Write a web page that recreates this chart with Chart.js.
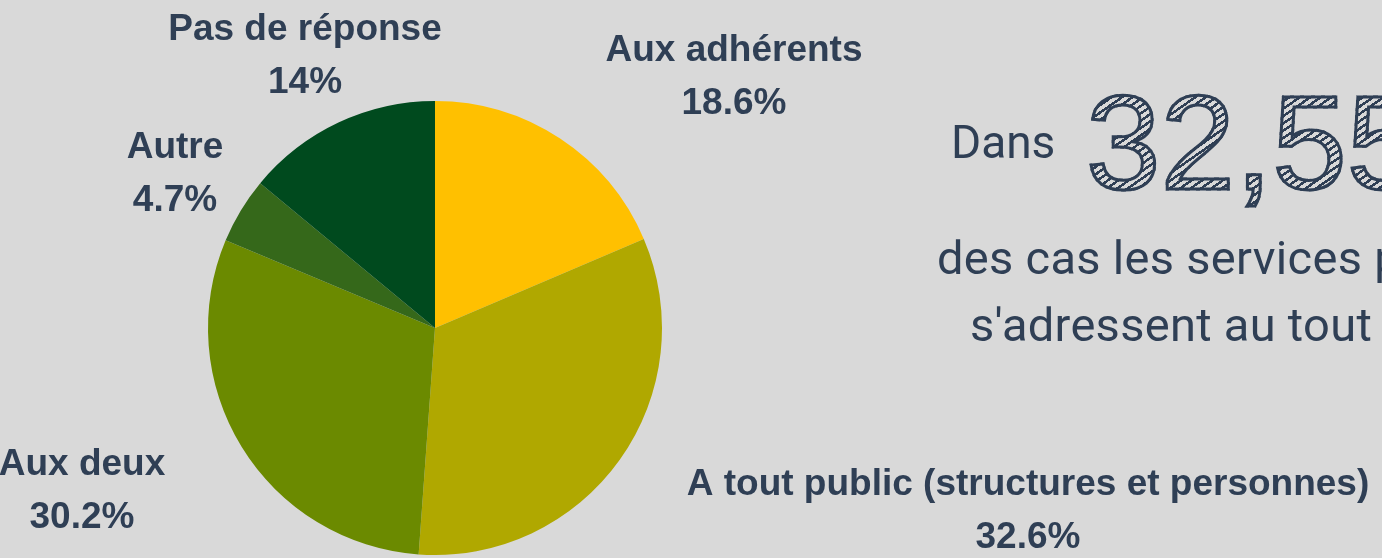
<!DOCTYPE html>
<html>
<head>
<meta charset="utf-8">
<script src="https://cdn.jsdelivr.net/npm/chart.js@4"></script>
<style>
  html, body { margin: 0; padding: 0; background: #d9d9d9; overflow: hidden; }
  #wrap { position: relative; width: 1382px; height: 558px; overflow: hidden; }
  #pie { position: absolute; left: 0; top: 0; }
  .txt { position: absolute; color: #2f3f55; white-space: nowrap; font-family: Roboto, sans-serif; font-weight: 400; }
  #dans { left: 951px; top: 115px; font-size: 46px; }
  #big {
    left: 1086px; top: 66px; font-family: "Liberation Sans", Arial, sans-serif; font-size: 134px;
    color: transparent; -webkit-text-stroke: 3px #2f3f55;
    background: repeating-linear-gradient(-35deg, #2f3f55 0 2.5px, transparent 2.5px 6px);
    -webkit-background-clip: text; background-clip: text;
  }
  #l1 { left: 937px; top: 230px; font-size: 47px; letter-spacing: 0.3px; }
  #l2 { left: 970px; top: 297px; font-size: 47px; letter-spacing: 0.3px; }
</style>
</head>
<body>
<div id="wrap">
  <canvas id="pie" width="1382" height="558"></canvas>
  <div class="txt" id="dans">Dans</div>
  <div class="txt" id="big">32,55</div>
  <div class="txt" id="l1">des cas les services p</div>
  <div class="txt" id="l2">s'adressent au tout</div>
</div>
<script>
const categories = ['Aux adhérents', 'A tout public (structures et personnes)', 'Aux deux', 'Autre', 'Pas de réponse'];
const values = [18.6, 32.6, 30.2, 4.7, 14];
const valueLabels = ['18.6%', '32.6%', '30.2%', '4.7%', '14%'];
const colors = ['#ffc000', '#b0a800', '#6b8a00', '#35681a', '#004a1e'];

document.addEventListener('DOMContentLoaded', function () {
    // label placement, offset from the pie centre (first line centre)
    const labelOffsets = [[299, -277], [593, 157], [-353, 137], [-260, -180], [-130, -298]];

    const outsideLabels = {
        id: 'outsideLabels',
        afterDatasetsDraw(chart) {
            const c = chart.ctx;
            const arcs = chart.getDatasetMeta(0).data;
            c.save();
            c.fillStyle = '#2f3f55';
            c.font = 'bold 37px "Liberation Sans", Arial, sans-serif';
            c.textAlign = 'center';
            c.textBaseline = 'middle';
            arcs.forEach(function (arc, i) {
                const x = arc.x + labelOffsets[i][0];
                const y = arc.y + labelOffsets[i][1];
                c.fillText(categories[i], x, y);
                c.fillText(valueLabels[i], x, y + 53);
            });
            c.restore();
        }
    };

    const ctx = document.getElementById('pie');
    new Chart(ctx.getContext('2d'), {
        type: 'pie',
        data: {
            labels: categories,
            datasets: [{
                data: values,
                backgroundColor: colors,
                borderWidth: 0
            }]
        },
        options: {
            responsive: false,
            animation: false,
            layout: { padding: { left: 208, right: 720, top: 101, bottom: 3 } },
            plugins: { legend: { display: false }, tooltip: { enabled: false } }
        },
        plugins: [outsideLabels]
    });
});
</script>
</body>
</html>
